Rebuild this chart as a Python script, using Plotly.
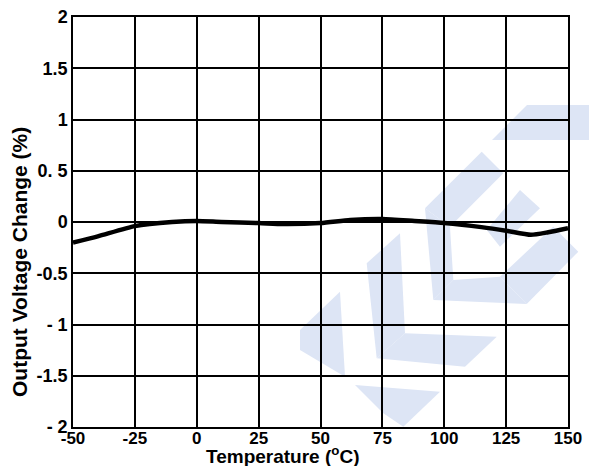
import plotly.graph_objects as go

temperature = [-50, -40, -25, -10, 0, 10, 25, 35, 50, 62, 75, 88, 100, 115, 125, 135, 142, 150]
voltage_change = [-0.20, -0.14, -0.04, 0.0, 0.01, 0.0, -0.01, -0.02, -0.01, 0.02, 0.03, 0.01,
                  -0.01, -0.05, -0.085, -0.125, -0.10, -0.06]

x_ticks = [-50, -25, 0, 25, 50, 75, 100, 125, 150]
x_ticktext = ["-50", "-25", "0", "25", "50", "75", "100", "125", "150"]
y_ticks = [2, 1.5, 1, 0.5, 0, -0.5, -1, -1.5, -2]
y_ticktext = ["2", "1.5", "1", "0. 5", "0", "-0.5", "- 1", "-1.5", "- 2"]
x_title = "Temperature (<sup>o</sup>C)"
y_title = "Output Voltage Change (%)"

W, H = 589, 466
L, R, T, B = 73, 568, 17, 427

def px2paper(px, py):
    return (px - L) / (R - L), (B - py) / (B - T)

def pp(pts):
    out = []
    for i, (px, py) in enumerate(pts):
        xp, yp = px2paper(px, py)
        out.append(("M" if i == 0 else "L") + f"{xp:.4f},{yp:.4f}")
    return " ".join(out) + " Z"

watermark = [
    [(527, 105), (595, 105), (595, 140), (492, 140)],
    [(481.7, 151.7), (503.3, 173.3), (450, 226.7), (425, 208.3)],
    [(425, 208.3), (450, 226.7), (453.3, 280), (433.3, 300)],
    [(433.3, 300), (453.3, 280), (500, 276.7), (526.7, 304)],
    [(526.7, 304), (500, 276.7), (553.3, 226.7), (578.3, 251.7)],
    [(520, 190), (540, 208.3), (500, 246.7), (486.7, 230)],
    [(366.7, 263.3), (400, 233.3), (405, 333.3), (376.7, 358.3)],
    [(376.7, 358.3), (405, 333.3), (496.7, 336.7), (465, 366.7)],
    [(300, 330), (340, 291.7), (345, 376.7), (300, 350)],
    [(355, 385), (440, 391.7), (403.3, 426.7), (383, 413)],
]

fig = go.Figure()
fig.add_trace(go.Scatter(
    x=temperature, y=voltage_change, mode="lines",
    line=dict(color="black", width=4.5, shape="spline", smoothing=0.6),
    showlegend=False, hoverinfo="skip",
))

shapes = [dict(type="path", path=pp(p), xref="paper", yref="paper",
               fillcolor="#dde5f5", line=dict(width=0), layer="below")
          for p in watermark]

font_yticks = dict(family="Liberation Sans, Arial", size=18, color="black", weight="bold")
font_xticks = dict(family="Liberation Sans, Arial", size=17, color="black", weight="bold")
font_ytitle = dict(family="Liberation Sans, Arial", size=21, color="black", weight="bold")
font_xtitle = dict(family="Liberation Sans, Arial", size=19, color="black", weight="bold")

xt_x, xt_y = px2paper(282, 468)
yt_x, yt_y = px2paper(19, 262)
annotations = [
    dict(text=x_title, xref="paper", yref="paper", x=xt_x, y=xt_y,
         xanchor="center", yanchor="bottom", showarrow=False, font=font_xtitle,
         borderpad=0),
    dict(text=y_title, xref="paper", yref="paper", x=yt_x, y=yt_y, textangle=-90,
         xanchor="center", yanchor="middle", showarrow=False, font=font_ytitle),
]

fig.update_layout(
    width=W, height=H,
    margin=dict(l=L, r=W - R, t=T, b=H - B),
    paper_bgcolor="white",
    plot_bgcolor="rgba(0,0,0,0)",
    shapes=shapes,
    annotations=annotations,
    xaxis=dict(
        range=[-50, 150], tickvals=x_ticks, ticktext=x_ticktext,
        showgrid=True, gridcolor="black", gridwidth=2,
        showline=True, linecolor="black", linewidth=2, mirror=True,
        zeroline=False, ticks="", tickfont=font_xticks, ticklabelstandoff=-5,
        automargin=False, fixedrange=True,
    ),
    yaxis=dict(
        range=[-2, 2], tickvals=y_ticks, ticktext=y_ticktext,
        showgrid=True, gridcolor="black", gridwidth=2,
        showline=True, linecolor="black", linewidth=1.5, mirror=True,
        zeroline=False, ticks="", tickfont=font_yticks,
        automargin=False, fixedrange=True,
    ),
)

fig.write_html("out.html", config={"displayModeBar": False},
               post_script="document.body.style.margin='0';document.body.style.overflow='hidden';")
